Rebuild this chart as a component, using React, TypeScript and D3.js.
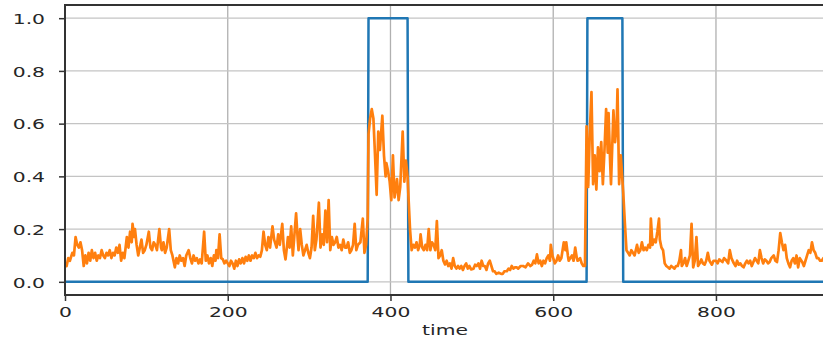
import { useEffect, useRef } from 'react'
import * as d3 from 'd3'

// step signal (blue): change points of the 0/1 flag
const flagTime  = [0, 372, 373, 421, 422, 641, 642, 685, 686, 934]
const flagValue = [0, 0, 1, 1, 0, 0, 1, 1, 0, 0]

// noisy score (orange) as [time, value]
const calmStart: [number, number][] = [
  [0,.07],[2,.06],[4,.09],[6,.08],[9,.11],[11,.10],[13,.17],[15,.14],[17,.13],[19,.15],
  [21,.12],[23,.06],[25,.10],[27,.07],[29,.11],[31,.08],[33,.12],[35,.09],[37,.11],[39,.08],
  [41,.10],[43,.09],[45,.12],[47,.10],[49,.09],[51,.11],[53,.10],[55,.12],[57,.09],[59,.11],
  [61,.10],[63,.13],[65,.11],[67,.14],[69,.08],[71,.11],[73,.09],[76,.17],[78,.13],[80,.19],
  [82,.15],[83,.22],[85,.17],[86,.20],[88,.14],[90,.10],[92,.13],[94,.16],[96,.11],[98,.12],
  [100,.14],[103,.19],[105,.13],[107,.12],[109,.15],[111,.14],[113,.12],[116,.20],[118,.13],[119,.12],
  [121,.15],[123,.11],[125,.13],[128,.20],[130,.12],[132,.10],[135,.055],[137,.09],[139,.07],[141,.10],
  [143,.08],[145,.09],[147,.06],[149,.10],[152,.12],[154,.09],[156,.07],[158,.10],[160,.08],[162,.09],
  [164,.07],[166,.085],[168,.07],[171,.19],[173,.08],[175,.10],[177,.07],[179,.09],[181,.06],[183,.10],
  [185,.08],[186,.12],[188,.09],[190,.18],[192,.09],[194,.085],[196,.07],[198,.08],[200,.07],[202,.06],
  [204,.08],[206,.07],[208,.05],[210,.08],[212,.06],[214,.085],[216,.07],[218,.09],[220,.07],[222,.095],
  [224,.08],[226,.10],[228,.08],[230,.10],[232,.09],[234,.11],[236,.09],[238,.10],[240,.095],[242,.12],
  [244,.19],[246,.14],[248,.12],[250,.17],[252,.13],[255,.21],[257,.16],[260,.13],[262,.18],[264,.14],
  [267,.22],[269,.12],[271,.085],[273,.14],[274,.17],[276,.13],[278,.21],[280,.10],[282,.18],[284,.26],
  [286,.16],[287,.12],[289,.20],[291,.14],[293,.10],[295,.12],[297,.14],[299,.11],[301,.09],[303,.13],
  [305,.25],[307,.12],[309,.16],[312,.30],[314,.13],[316,.18],[318,.14],[320,.27],[322,.15],[324,.31],
  [326,.12],[328,.17],[330,.14],[332,.15],[334,.17],[336,.13],[338,.14],[340,.12],[342,.16],[344,.13],
  [346,.13],[348,.15],[350,.11],[352,.12],[354,.14],[356,.22],[358,.12],[360,.14],[363,.15],[366,.24],
  [368,.11],[370,.14],[372,.24],
]
const burstOne: [number, number][] = [
  [373,.56],[375,.62],[377,.655],[379,.62],[381,.48],[383,.33],[385,.57],[387,.50],[390,.63],[392,.48],
  [394,.40],[395,.45],[397,.42],[399,.38],[401,.31],[403,.48],[405,.32],[407,.36],[408,.39],[410,.31],
  [412,.36],[415,.57],[417,.38],[419,.46],[421,.40],[422,.33],
]
const calmMiddle: [number, number][] = [
  [424,.20],[426,.12],[428,.14],[430,.13],[432,.15],[434,.12],[436,.14],[437,.18],[439,.13],[441,.12],
  [443,.14],[445,.12],[447,.20],[449,.12],[451,.15],[453,.14],[455,.12],[457,.23],[459,.09],[461,.10],
  [463,.12],[465,.08],[467,.066],[469,.08],[471,.06],[473,.07],[475,.05],[477,.09],[479,.06],[481,.05],
  [483,.06],[485,.05],[487,.06],[489,.045],[491,.06],[493,.07],[495,.05],[497,.06],[499,.047],[502,.05],
  [504,.065],[506,.06],[508,.07],[510,.05],[512,.08],[514,.06],[516,.06],[518,.045],[520,.07],[522,.08],
  [524,.06],[526,.04],[528,.04],[530,.03],[533,.035],[536,.03],[538,.03],[540,.04],[543,.04],[545,.05],
  [547,.045],[549,.06],[551,.05],[553,.055],[555,.055],[557,.05],[560,.06],[563,.06],[566,.055],[569,.07],
  [572,.06],[574,.065],[576,.08],[578,.07],[580,.104],[582,.07],[584,.08],[586,.06],[588,.08],[590,.07],
  [592,.09],[594,.10],[596,.08],[597,.14],[599,.10],[600,.09],[602,.07],[604,.08],[606,.10],[608,.08],
  [610,.09],[613,.15],[615,.12],[616,.15],[618,.10],[619,.08],[621,.09],[623,.10],[625,.08],[627,.13],
  [629,.09],[630,.08],[633,.09],[635,.07],[637,.06],[639,.06],
]
const burstTwo: [number, number][] = [
  [641,.59],[643,.36],[645,.57],[647,.72],[649,.37],[651,.48],[653,.35],[655,.51],[657,.42],[659,.53],
  [661,.37],[663,.50],[665,.655],[667,.49],[668,.64],[670,.45],[671,.37],[674,.65],[676,.53],[678,.60],
  [679,.73],[681,.37],[683,.48],[686,.34],[688,.225],
]
const calmEnd: [number, number][] = [
  [690,.12],[692,.11],[694,.10],[696,.12],[698,.11],[700,.10],[703,.14],[705,.11],[707,.12],[709,.15],
  [711,.12],[713,.13],[715,.12],[717,.14],[719,.13],[720,.24],[722,.14],[724,.16],[726,.15],[728,.19],
  [730,.24],[731,.16],[733,.13],[735,.12],[737,.07],[739,.06],[741,.055],[743,.05],[745,.06],[747,.055],
  [749,.05],[751,.06],[753,.06],[755,.08],[757,.12],[758,.06],[760,.07],[762,.09],[764,.06],[766,.08],
  [768,.10],[770,.22],[772,.055],[774,.08],[776,.17],[778,.06],[780,.07],[782,.085],[784,.07],[786,.065],
  [788,.08],[790,.11],[792,.08],[795,.065],[797,.08],[800,.08],[802,.07],[804,.085],[806,.08],[808,.075],
  [810,.09],[813,.08],[815,.07],[817,.12],[819,.09],[822,.07],[824,.06],[826,.08],[828,.065],[830,.07],
  [832,.06],[834,.055],[836,.07],[838,.08],[840,.07],[842,.08],[844,.06],[846,.075],[848,.09],[850,.08],
  [852,.07],[854,.12],[856,.09],[858,.07],[860,.085],[862,.08],[864,.07],[866,.075],[868,.09],[871,.10],
  [873,.08],[875,.075],[877,.12],[879,.185],[881,.15],[883,.12],[885,.14],[887,.09],[889,.07],[891,.055],
  [893,.08],[895,.09],[897,.07],[899,.10],[901,.055],[903,.09],[906,.075],[908,.06],[910,.08],[912,.10],
  [914,.12],[916,.11],[918,.15],[920,.12],[922,.11],[924,.09],[926,.09],[928,.08],[930,.08],[932,.09],
  [934,.07],
]

const xTicks = [0, 200, 400, 600, 800]
const yTicks = [0, 0.2, 0.4, 0.6, 0.8, 1.0]

const FONT = '"DejaVu Sans", sans-serif'
const STRETCH = 1.4 // the source image is squeezed wider than its text

export default function App() {
  const svgRef = useRef<SVGSVGElement>(null)

  useEffect(() => {
    const svgEl = svgRef.current
    if (!svgEl) return
    const totalW = 823
    const totalH = 341
    const left = 65, right = 825, top = 5, bottom = 295

    const svg = d3.select(svgEl)
    svg.selectAll('*').remove()
    svg.attr('width', totalW).attr('height', totalH)

    const x = d3.scaleLinear().domain([0, 934]).range([left, right])
    const y = d3.scaleLinear().domain([-0.05, 1.05]).range([bottom, top])

    // grid
    svg.append('g').selectAll('line').data(xTicks).enter().append('line')
      .attr('x1', d => x(d)).attr('x2', d => x(d))
      .attr('y1', top).attr('y2', bottom)
      .attr('stroke', '#b0b0b0').attr('stroke-width', 1.3)
    svg.append('g').selectAll('line').data(yTicks).enter().append('line')
      .attr('x1', left).attr('x2', right)
      .attr('y1', d => y(d)).attr('y2', d => y(d))
      .attr('stroke', '#c4c4c4').attr('stroke-width', 1.2)

    // blue step
    const flag = flagTime.map((t, i) => [t, flagValue[i]] as [number, number])
    const line = d3.line<[number, number]>().x(d => x(d[0])).y(d => y(d[1]))
    svg.append('path')
      .attr('d', line(flag) ?? '')
      .attr('fill', 'none').attr('stroke', '#1f77b4').attr('stroke-width', 2.5)
      .attr('stroke-linejoin', 'round')

    // orange signal
    const signal = [...calmStart, ...burstOne, ...calmMiddle, ...burstTwo, ...calmEnd]
    svg.append('path')
      .attr('d', line(signal) ?? '')
      .attr('fill', 'none').attr('stroke', '#ff7f0e').attr('stroke-width', 2.7)
      .attr('stroke-linejoin', 'round')

    // spines
    svg.append('rect')
      .attr('x', left).attr('y', top)
      .attr('width', right - left).attr('height', bottom - top)
      .attr('fill', 'none').attr('stroke', '#333').attr('stroke-width', 2)

    // x axis
    svg.append('g')
      .attr('transform', `translate(0,${bottom})`)
      .call(d3.axisBottom(x).tickValues(xTicks).tickSize(6).tickFormat(d => `${d}`))
      .call(ax => {
        ax.select('.domain').remove()
        ax.selectAll('.tick line').attr('stroke', '#333').attr('stroke-width', 1.5)
        ax.selectAll('.tick text')
          .attr('font-family', FONT).attr('font-size', 14.5).attr('fill', '#262626')
          .attr('y', 22).attr('dy', 0)
          .attr('transform', `scale(${STRETCH},1)`)
      })

    // y axis
    svg.append('g')
      .attr('transform', `translate(${left},0)`)
      .call(d3.axisLeft(y).tickValues(yTicks).tickSize(6).tickFormat(d => (+d).toFixed(1)))
      .call(ax => {
        ax.select('.domain').remove()
        ax.selectAll('.tick line').attr('stroke', '#333').attr('stroke-width', 1.5)
        ax.selectAll('.tick text')
          .attr('font-family', FONT).attr('font-size', 14.5).attr('fill', '#262626')
          .attr('x', -20 / STRETCH).attr('dy', '0.36em')
          .attr('transform', `scale(${STRETCH},1)`)
      })

    // x label
    svg.append('text')
      .attr('x', (left + right) / 2 / STRETCH).attr('y', 335)
      .attr('transform', `scale(${STRETCH},1)`)
      .attr('text-anchor', 'middle')
      .attr('font-family', FONT).attr('font-size', 14.5).attr('fill', '#262626')
      .text('time')
  }, [])

  return (
    <div style={{ position: 'absolute', left: 0, top: 0, width: 823, height: 341, background: '#fff', overflow: 'hidden' }}>
      <svg ref={svgRef} style={{ display: 'block' }} />
    </div>
  )
}
